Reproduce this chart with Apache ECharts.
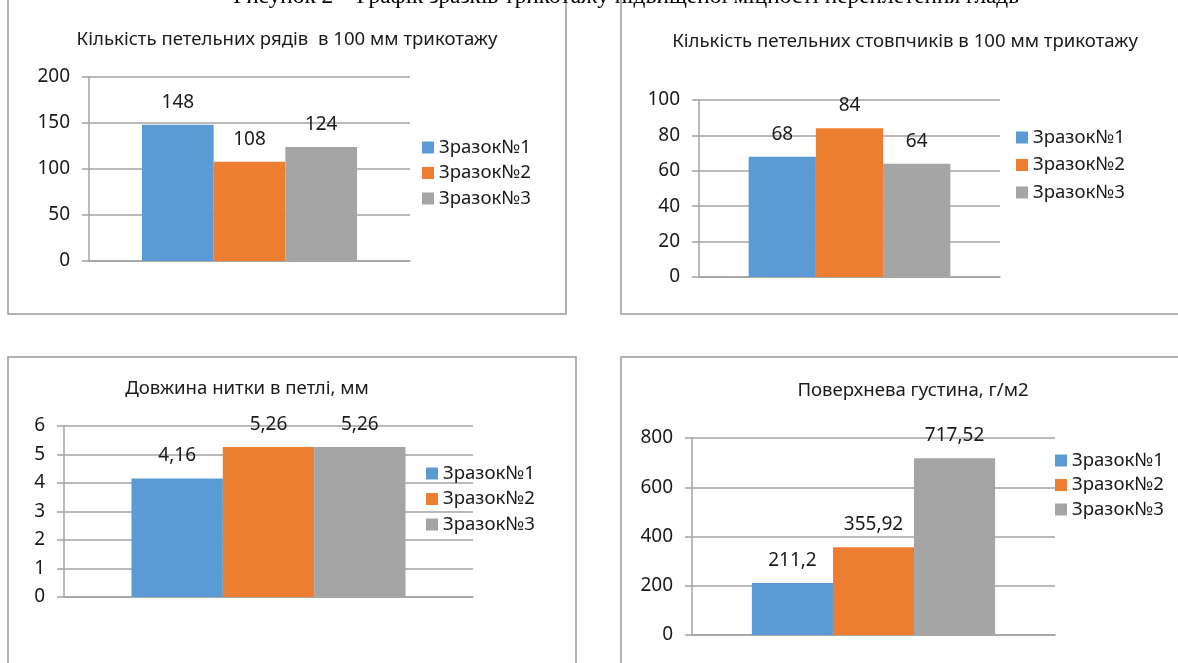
<!DOCTYPE html>
<html>
<head>
<meta charset="utf-8">
<script src="https://cdn.jsdelivr.net/npm/echarts@6/dist/echarts.min.js"></script>
<style>
  html, body { margin: 0; padding: 0; background: #fff; }
  #chart { width: 1178px; height: 663px; }
</style>
</head>
<body>
<div id="chart"></div>
<script>
const samples = ['Зразок№1', 'Зразок№2', 'Зразок№3'];
const rowsPer100mm = [148, 108, 124];
const colsPer100mm = [68, 84, 64];
const loopLength = [4.16, 5.26, 5.26];
const surfaceDensity = [211.2, 355.92, 717.52];

const chartTitles = [
  'Кількість петельних рядів  в 100 мм трикотажу',
  'Кількість петельних стовпчиків в 100 мм трикотажу',
  'Довжина нитки в петлі, мм',
  'Поверхнева густина, г/м2'
];
const yMax = [200, 100, 6, 800];
const yStep = [50, 20, 1, 200];
const caption = 'Рисунок 2 – Графік зразків трикотажу підвищеної міцності переплетення гладь';

const colors = ['#5b9bd5', '#ed7d31', '#a5a5a5'];
const datasets = [rowsPer100mm, colsPer100mm, loopLength, surfaceDensity];

const FONT = 'Noto Sans';
const gridColor = '#a3a3a3';
const textColor = '#1a1a1a';

// panel layout (pixels)
const panels = [
  { grid: { left: 89, top: 77, width: 321, height: 184 }, title: [287, 38], legend: [422, 138], gap: 6.5 },
  { grid: { left: 699, top: 100, width: 301, height: 177 }, title: [905, 40], legend: [1016, 128], gap: 8.5 },
  { grid: { left: 64, top: 426, width: 409, height: 171 }, title: [247, 387], legend: [426, 464], gap: 6.5 },
  { grid: { left: 692, top: 438, width: 363, height: 197 }, title: [913, 389], legend: [1055, 451], gap: 5.5 }
];

const fmt = v => String(v).replace('.', ',');

const chart = echarts.init(document.getElementById('chart'));

const option = {
  animation: false,
  backgroundColor: '#fff',
  textStyle: { fontFamily: FONT, color: textColor },
  grid: panels.map(p => Object.assign({ containLabel: false }, p.grid)),
  xAxis: panels.map((p, i) => ({
    type: 'category',
    gridIndex: i,
    data: [''],
    axisLine: { show: true, lineStyle: { color: gridColor, width: 1.5 } },
    axisTick: { show: false },
    axisLabel: { show: false }
  })),
  yAxis: panels.map((p, i) => ({
    type: 'value',
    gridIndex: i,
    min: 0,
    max: yMax[i],
    interval: yStep[i],
    axisLine: { show: true, lineStyle: { color: gridColor, width: 1.5 } },
    axisTick: { show: true, length: 7, lineStyle: { color: gridColor, width: 1.5 } },
    axisLabel: { margin: 19, fontSize: 19, color: textColor, fontFamily: FONT },
    splitLine: { show: true, lineStyle: { color: gridColor, width: 1.5 } }
  })),
  title: panels.map((p, i) => ({
    text: chartTitles[i],
    left: p.title[0],
    top: p.title[1] - 8,
    textAlign: 'center',
    padding: 0,
    textStyle: { fontFamily: FONT, fontSize: 18.6, fontWeight: 'normal', color: textColor }
  })),
  legend: panels.map(p => ({
    data: samples,
    orient: 'vertical',
    left: p.legend[0],
    top: p.legend[1],
    padding: 0,
    itemWidth: 12,
    itemHeight: 12,
    itemGap: p.gap,
    icon: 'rect',
    selectedMode: false,
    textStyle: { fontFamily: FONT, fontSize: 18.6, color: textColor }
  })),
  series: [],
  graphic: [
    { type: 'rect', shape: { x: 8, y: -20, width: 558, height: 334 }, style: { fill: 'none', stroke: '#9a9a9a', lineWidth: 1.5 } },
    { type: 'rect', shape: { x: 621, y: -20, width: 600, height: 334 }, style: { fill: 'none', stroke: '#9a9a9a', lineWidth: 1.5 } },
    { type: 'rect', shape: { x: 8, y: 357, width: 568, height: 340 }, style: { fill: 'none', stroke: '#9a9a9a', lineWidth: 1.5 } },
    { type: 'rect', shape: { x: 621, y: 357, width: 600, height: 340 }, style: { fill: 'none', stroke: '#9a9a9a', lineWidth: 1.5 } },
    {
      type: 'text', x: 626, y: 8,
      style: { text: caption, font: '23.3px "Liberation Serif"', fill: '#000', textAlign: 'center', textVerticalAlign: 'bottom' }
    }
  ]
};

datasets.forEach((values, i) => {
  samples.forEach((name, k) => {
    option.series.push({
      type: 'bar',
      name: name,
      xAxisIndex: i,
      yAxisIndex: i,
      data: [values[k]],
      itemStyle: { color: colors[k] },
      barGap: '0%',
      barCategoryGap: '33%',
      label: {
        show: true,
        position: 'top',
        distance: 13,
        fontFamily: FONT,
        fontSize: 19,
        color: textColor,
        formatter: p => fmt(p.value)
      }
    });
  });
});

chart.setOption(option);
</script>
</body>
</html>
